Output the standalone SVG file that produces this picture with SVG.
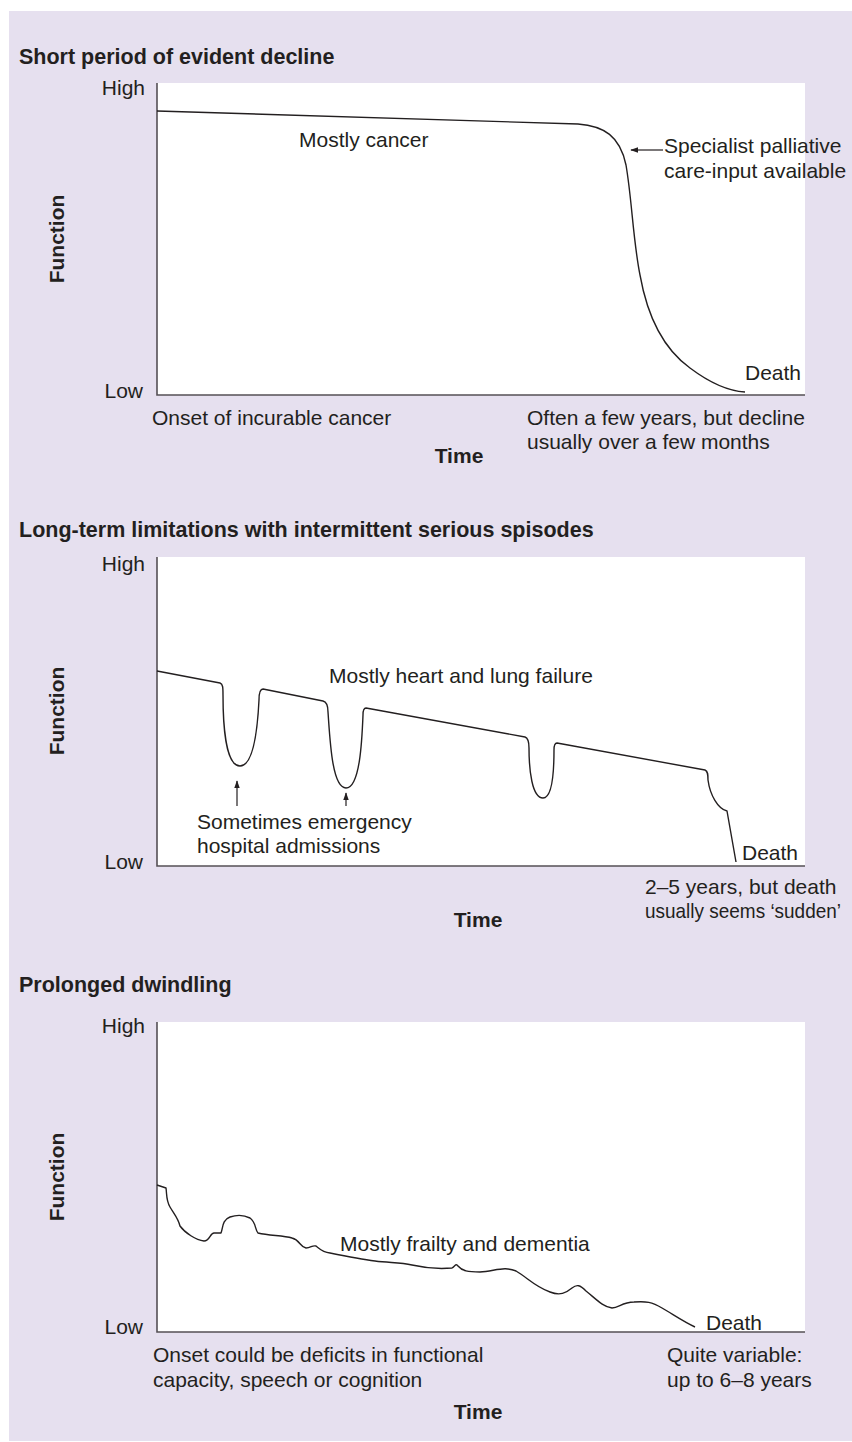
<svg xmlns="http://www.w3.org/2000/svg" width="852" height="1442" viewBox="0 0 852 1442">
<defs>
<style>
.bg{fill:#e6e0ef}
.plot{fill:#ffffff}
.axis{fill:none;stroke:#555055;stroke-width:1.6}
.curve{fill:none;stroke:#231f20;stroke-width:1.4;stroke-linejoin:round}
.ptr{fill:none;stroke:#231f20;stroke-width:1.2}
text{font-family:"Liberation Sans",Arial,sans-serif;font-size:21px;fill:#231f20}
.b{font-weight:bold}
.t{font-size:21.5px}
.r{text-anchor:end}
.m{text-anchor:middle}
</style>
<marker id="ah" viewBox="0 0 10 10" refX="9" refY="5" markerWidth="8" markerHeight="8" markerUnits="userSpaceOnUse" orient="auto">
<path d="M0,1.5 L10,5 L0,8.5 Z" fill="#231f20"/>
</marker>
</defs>
<rect class="bg" x="9" y="11" width="843" height="1430"/>

<g id="chart1">
<text class="b t" x="19" y="64">Short period of evident decline</text>
<rect class="plot" x="157" y="83" width="648" height="312"/>
<path class="axis" d="M157,83 V395 H805"/>
<text class="r" x="145" y="95">High</text>
<text class="r" x="143" y="398">Low</text>
<text class="b m" transform="translate(64,239) rotate(-90)">Function</text>
<path class="curve" d="M157,111 L578,124 C604,126 620,136 626,165 C632,200 633,240 640,275 C648,320 665,350 690,368 C710,383 728,391 745,392"/>
<text x="299" y="147">Mostly cancer</text>
<path class="ptr" d="M663,150 H631" marker-end="url(#ah)"/>
<text x="664" y="153">Specialist palliative</text>
<text x="664" y="178">care-input available</text>
<text x="745" y="380">Death</text>
<text x="152" y="425">Onset of incurable cancer</text>
<text x="527" y="425">Often a few years, but decline</text>
<text x="527" y="449">usually over a few months</text>
<text class="b m" x="459" y="463">Time</text>
</g>

<g id="chart2">
<text class="b t" x="19" y="537">Long-term limitations with intermittent serious spisodes</text>
<rect class="plot" x="157" y="557" width="648" height="309"/>
<path class="axis" d="M157,557 V866 H805"/>
<text class="r" x="145" y="571">High</text>
<text class="r" x="143" y="869">Low</text>
<text class="b m" transform="translate(64,711) rotate(-90)">Function</text>
<path class="curve" d="M157,671 L220,683 C223,684 223,688 223,695 C223,720 225,766 240,766 C255,766 258,720 259,700 C259,692 260,689 263,689 L323,701 C327,702 328,706 328,712 C330,740 332,788 346,788 C360,788 362,740 363,715 C363,710 364,708 366,708 L525,737 C528,738 529,742 529,748 C529,770 532,798 543,798 C553,798 554,770 554,750 C554,745 555,743 557,743 L705,770 C708,771 708,775 708,780 C710,795 718,809 727,811 L736,862"/>
<text x="329" y="683">Mostly heart and lung failure</text>
<path class="ptr" d="M237,806 V781" marker-end="url(#ah)"/>
<path class="ptr" d="M346,806 V793" marker-end="url(#ah)"/>
<text x="197" y="829">Sometimes emergency</text>
<text x="197" y="853">hospital admissions</text>
<text x="742" y="860">Death</text>
<text x="645" y="894">2–5 years, but death</text>
<text x="645" y="918" textLength="196" lengthAdjust="spacingAndGlyphs">usually seems ‘sudden’</text>
<text class="b m" x="478" y="927">Time</text>
</g>

<g id="chart3">
<text class="b t" x="19" y="992">Prolonged dwindling</text>
<rect class="plot" x="157" y="1022" width="648" height="310"/>
<path class="axis" d="M157,1022 V1332 H805"/>
<text class="r" x="145" y="1033">High</text>
<text class="r" x="143" y="1334">Low</text>
<text class="b m" transform="translate(64,1177) rotate(-90)">Function</text>
<path class="curve" d="M157,1185 L166,1188 C167,1195 166,1200 170,1207 C174,1214 178,1218 180,1226 C185,1233 196,1240 204,1241 C210,1241 210,1233 214,1233 L221,1233 C223,1228 222,1220 230,1217 C236,1215 244,1215 250,1218 C256,1222 255,1230 258,1233 C270,1236 283,1235 292,1238 C300,1240 300,1247 306,1248 C311,1248 312,1245 316,1246 C320,1249 322,1252 330,1253 C345,1256 360,1259 375,1261 C390,1263 400,1262 412,1265 C425,1268 440,1269 452,1268 C455,1266 456,1263 458,1266 C462,1271 468,1272 480,1272 C495,1271 505,1266 516,1271 C528,1278 534,1286 550,1292 C560,1296 566,1293 572,1288 C577,1284 580,1285 586,1291 C596,1299 603,1307 612,1308 C619,1308 622,1302 634,1302 C646,1301 652,1302 662,1308 C674,1315 684,1322 695,1327"/>
<text x="340" y="1251">Mostly frailty and dementia</text>
<text x="706" y="1330">Death</text>
<text x="153" y="1362">Onset could be deficits in functional</text>
<text x="153" y="1387">capacity, speech or cognition</text>
<text x="667" y="1362">Quite variable:</text>
<text x="667" y="1387">up to 6–8 years</text>
<text class="b m" x="478" y="1419">Time</text>
</g>
</svg>
